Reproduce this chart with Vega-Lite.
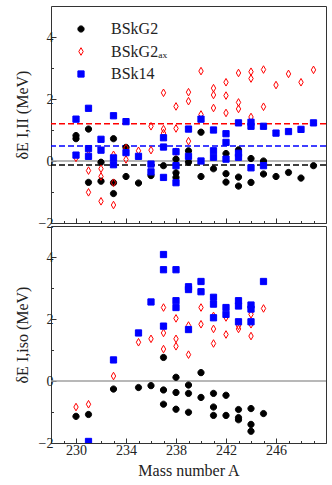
{
  "$schema": "https://vega.github.io/schema/vega-lite/v6.json",
  "padding": {"left": 13, "top": 5, "right": 7, "bottom": 5},
  "config": {
    "font": "Liberation Serif",
    "view": {"stroke": "#333", "strokeWidth": 1},
    "axis": {
      "grid": false, "domain": false, "tickColor": "#333", "tickWidth": 1,
      "labelFont": "Liberation Serif", "labelFontSize": 14, "labelColor": "#222", "labelPadding": 3,
      "titleFont": "Liberation Serif", "titleFontSize": 16, "titleFontWeight": "normal", "titleColor": "#222"
    },
    "legend": {"symbolSize": 64},
    "concat": {"spacing": 3}
  },
  "datasets": {
    "top": [
      {"A":230,"dE":0.82,"model":"BSkG2"},{"A":230,"dE":0.72,"model":"BSkG2"},
      {"A":231,"dE":1.03,"model":"BSkG2"},{"A":231,"dE":-0.69,"model":"BSkG2"},
      {"A":232,"dE":-0.04,"model":"BSkG2"},{"A":232,"dE":-0.65,"model":"BSkG2"},
      {"A":233,"dE":0.72,"model":"BSkG2"},{"A":233,"dE":-0.7,"model":"BSkG2"},{"A":233,"dE":-1.05,"model":"BSkG2"},
      {"A":234,"dE":0.44,"model":"BSkG2"},{"A":234,"dE":-0.5,"model":"BSkG2"},
      {"A":235,"dE":-0.71,"model":"BSkG2"},
      {"A":236,"dE":-0.47,"model":"BSkG2"},
      {"A":237,"dE":-0.15,"model":"BSkG2"},
      {"A":238,"dE":0.06,"model":"BSkG2"},{"A":238,"dE":-0.38,"model":"BSkG2"},{"A":238,"dE":-0.53,"model":"BSkG2"},
      {"A":239,"dE":0.33,"model":"BSkG2"},{"A":239,"dE":-0.04,"model":"BSkG2"},
      {"A":240,"dE":0.93,"model":"BSkG2"},{"A":240,"dE":-0.5,"model":"BSkG2"},
      {"A":241,"dE":-0.25,"model":"BSkG2"},
      {"A":242,"dE":0.24,"model":"BSkG2"},{"A":242,"dE":-0.41,"model":"BSkG2"},{"A":242,"dE":-0.68,"model":"BSkG2"},
      {"A":243,"dE":0.36,"model":"BSkG2"},{"A":243,"dE":-0.52,"model":"BSkG2"},{"A":243,"dE":-0.81,"model":"BSkG2"},
      {"A":244,"dE":0.08,"model":"BSkG2"},{"A":244,"dE":-0.69,"model":"BSkG2"},
      {"A":245,"dE":0.0,"model":"BSkG2"},{"A":245,"dE":-0.42,"model":"BSkG2"},
      {"A":246,"dE":-0.5,"model":"BSkG2"},
      {"A":247,"dE":-0.37,"model":"BSkG2"},
      {"A":248,"dE":-0.55,"model":"BSkG2"},
      {"A":249,"dE":-0.15,"model":"BSkG2"},

      {"A":230,"dE":0.1,"model":"BSkG2ₐₓ"},
      {"A":231,"dE":0.35,"model":"BSkG2ₐₓ"},{"A":231,"dE":-0.31,"model":"BSkG2ₐₓ"},{"A":231,"dE":-1.01,"model":"BSkG2ₐₓ"},
      {"A":232,"dE":-0.25,"model":"BSkG2ₐₓ"},{"A":232,"dE":-0.5,"model":"BSkG2ₐₓ"},{"A":232,"dE":-1.3,"model":"BSkG2ₐₓ"},
      {"A":233,"dE":0.2,"model":"BSkG2ₐₓ"},{"A":233,"dE":-0.7,"model":"BSkG2ₐₓ"},{"A":233,"dE":-1.42,"model":"BSkG2ₐₓ"},
      {"A":234,"dE":0.42,"model":"BSkG2ₐₓ"},{"A":234,"dE":0.05,"model":"BSkG2ₐₓ"},
      {"A":235,"dE":0.33,"model":"BSkG2ₐₓ"},
      {"A":236,"dE":1.12,"model":"BSkG2ₐₓ"},{"A":236,"dE":0.35,"model":"BSkG2ₐₓ"},
      {"A":237,"dE":2.2,"model":"BSkG2ₐₓ"},{"A":237,"dE":1.03,"model":"BSkG2ₐₓ"},{"A":237,"dE":0.9,"model":"BSkG2ₐₓ"},
      {"A":238,"dE":1.76,"model":"BSkG2ₐₓ"},{"A":238,"dE":1.05,"model":"BSkG2ₐₓ"},{"A":238,"dE":0.3,"model":"BSkG2ₐₓ"},
      {"A":239,"dE":2.22,"model":"BSkG2ₐₓ"},{"A":239,"dE":1.93,"model":"BSkG2ₐₓ"},{"A":239,"dE":0.64,"model":"BSkG2ₐₓ"},
      {"A":240,"dE":2.9,"model":"BSkG2ₐₓ"},{"A":240,"dE":1.5,"model":"BSkG2ₐₓ"},
      {"A":241,"dE":2.35,"model":"BSkG2ₐₓ"},{"A":241,"dE":2.13,"model":"BSkG2ₐₓ"},{"A":241,"dE":1.71,"model":"BSkG2ₐₓ"},
      {"A":242,"dE":2.54,"model":"BSkG2ₐₓ"},{"A":242,"dE":2.11,"model":"BSkG2ₐₓ"},{"A":242,"dE":1.55,"model":"BSkG2ₐₓ"},
      {"A":243,"dE":2.84,"model":"BSkG2ₐₓ"},{"A":243,"dE":1.89,"model":"BSkG2ₐₓ"},{"A":243,"dE":1.68,"model":"BSkG2ₐₓ"},
      {"A":244,"dE":2.88,"model":"BSkG2ₐₓ"},{"A":244,"dE":2.66,"model":"BSkG2ₐₓ"},{"A":244,"dE":1.42,"model":"BSkG2ₐₓ"},
      {"A":245,"dE":2.95,"model":"BSkG2ₐₓ"},{"A":245,"dE":1.75,"model":"BSkG2ₐₓ"},
      {"A":246,"dE":2.45,"model":"BSkG2ₐₓ"},
      {"A":247,"dE":2.81,"model":"BSkG2ₐₓ"},
      {"A":248,"dE":2.54,"model":"BSkG2ₐₓ"},
      {"A":249,"dE":2.94,"model":"BSkG2ₐₓ"},

      {"A":230,"dE":1.35,"model":"BSk14"},{"A":230,"dE":0.19,"model":"BSk14"},
      {"A":231,"dE":1.7,"model":"BSk14"},{"A":231,"dE":0.4,"model":"BSk14"},{"A":231,"dE":0.15,"model":"BSk14"},
      {"A":232,"dE":0.7,"model":"BSk14"},{"A":232,"dE":0.35,"model":"BSk14"},
      {"A":233,"dE":1.46,"model":"BSk14"},{"A":233,"dE":0.1,"model":"BSk14"},{"A":233,"dE":-0.12,"model":"BSk14"},
      {"A":234,"dE":1.27,"model":"BSk14"},{"A":234,"dE":0.27,"model":"BSk14"},
      {"A":235,"dE":0.15,"model":"BSk14"},
      {"A":236,"dE":-0.1,"model":"BSk14"},{"A":236,"dE":-0.35,"model":"BSk14"},
      {"A":237,"dE":0.75,"model":"BSk14"},{"A":237,"dE":0.45,"model":"BSk14"},{"A":237,"dE":-0.53,"model":"BSk14"},
      {"A":238,"dE":0.3,"model":"BSk14"},{"A":238,"dE":-0.15,"model":"BSk14"},{"A":238,"dE":-0.7,"model":"BSk14"},
      {"A":239,"dE":1.03,"model":"BSk14"},{"A":239,"dE":0.15,"model":"BSk14"},
      {"A":240,"dE":1.35,"model":"BSk14"},{"A":240,"dE":0.0,"model":"BSk14"},
      {"A":241,"dE":1.0,"model":"BSk14"},{"A":241,"dE":0.33,"model":"BSk14"},{"A":241,"dE":0.12,"model":"BSk14"},
      {"A":242,"dE":0.88,"model":"BSk14"},{"A":242,"dE":0.6,"model":"BSk14"},{"A":242,"dE":0.06,"model":"BSk14"},
      {"A":243,"dE":1.23,"model":"BSk14"},{"A":243,"dE":0.25,"model":"BSk14"},{"A":243,"dE":0.12,"model":"BSk14"},
      {"A":244,"dE":1.25,"model":"BSk14"},{"A":244,"dE":1.12,"model":"BSk14"},{"A":244,"dE":-0.22,"model":"BSk14"},
      {"A":245,"dE":1.12,"model":"BSk14"},{"A":245,"dE":-0.15,"model":"BSk14"},
      {"A":246,"dE":0.9,"model":"BSk14"},
      {"A":247,"dE":0.95,"model":"BSk14"},
      {"A":248,"dE":1.02,"model":"BSk14"},
      {"A":249,"dE":1.23,"model":"BSk14"}
    ],
    "bot": [
      {"A":230,"dE":-1.14,"model":"BSkG2"},
      {"A":231,"dE":-1.08,"model":"BSkG2"},
      {"A":233,"dE":-0.26,"model":"BSkG2"},
      {"A":235,"dE":-0.21,"model":"BSkG2"},
      {"A":236,"dE":-0.15,"model":"BSkG2"},
      {"A":237,"dE":0.76,"model":"BSkG2"},{"A":237,"dE":-0.29,"model":"BSkG2"},{"A":237,"dE":-0.75,"model":"BSkG2"},
      {"A":238,"dE":0.12,"model":"BSkG2"},{"A":238,"dE":-0.37,"model":"BSkG2"},{"A":238,"dE":-0.91,"model":"BSkG2"},
      {"A":239,"dE":-0.13,"model":"BSkG2"},{"A":239,"dE":-0.4,"model":"BSkG2"},{"A":239,"dE":-1.01,"model":"BSkG2"},
      {"A":240,"dE":0.27,"model":"BSkG2"},{"A":240,"dE":-0.53,"model":"BSkG2"},
      {"A":241,"dE":-0.4,"model":"BSkG2"},{"A":241,"dE":-0.84,"model":"BSkG2"},{"A":241,"dE":-1.11,"model":"BSkG2"},
      {"A":242,"dE":-0.46,"model":"BSkG2"},{"A":242,"dE":-1.11,"model":"BSkG2"},
      {"A":243,"dE":-0.92,"model":"BSkG2"},{"A":243,"dE":-1.18,"model":"BSkG2"},{"A":243,"dE":-1.25,"model":"BSkG2"},
      {"A":244,"dE":-0.89,"model":"BSkG2"},{"A":244,"dE":-1.4,"model":"BSkG2"},{"A":244,"dE":-1.62,"model":"BSkG2"},
      {"A":245,"dE":-1.05,"model":"BSkG2"},

      {"A":230,"dE":-0.84,"model":"BSkG2ₐₓ"},
      {"A":231,"dE":-0.75,"model":"BSkG2ₐₓ"},
      {"A":233,"dE":0.16,"model":"BSkG2ₐₓ"},
      {"A":235,"dE":1.25,"model":"BSkG2ₐₓ"},
      {"A":236,"dE":1.36,"model":"BSkG2ₐₓ"},
      {"A":237,"dE":2.37,"model":"BSkG2ₐₓ"},{"A":237,"dE":1.55,"model":"BSkG2ₐₓ"},{"A":237,"dE":1.03,"model":"BSkG2ₐₓ"},
      {"A":238,"dE":2.02,"model":"BSkG2ₐₓ"},{"A":238,"dE":1.36,"model":"BSkG2ₐₓ"},{"A":238,"dE":1.12,"model":"BSkG2ₐₓ"},
      {"A":239,"dE":1.79,"model":"BSkG2ₐₓ"},{"A":239,"dE":0.85,"model":"BSkG2ₐₓ"},
      {"A":240,"dE":2.37,"model":"BSkG2ₐₓ"},{"A":240,"dE":1.83,"model":"BSkG2ₐₓ"},
      {"A":241,"dE":2.1,"model":"BSkG2ₐₓ"},{"A":241,"dE":1.68,"model":"BSkG2ₐₓ"},{"A":241,"dE":1.21,"model":"BSkG2ₐₓ"},
      {"A":242,"dE":2.05,"model":"BSkG2ₐₓ"},{"A":242,"dE":1.5,"model":"BSkG2ₐₓ"},
      {"A":243,"dE":1.78,"model":"BSkG2ₐₓ"},{"A":243,"dE":1.68,"model":"BSkG2ₐₓ"},
      {"A":244,"dE":2.15,"model":"BSkG2ₐₓ"},{"A":244,"dE":1.83,"model":"BSkG2ₐₓ"},{"A":244,"dE":1.45,"model":"BSkG2ₐₓ"},
      {"A":245,"dE":2.34,"model":"BSkG2ₐₓ"},

      {"A":231,"dE":-1.95,"model":"BSk14"},
      {"A":233,"dE":0.68,"model":"BSk14"},
      {"A":235,"dE":1.55,"model":"BSk14"},
      {"A":236,"dE":2.55,"model":"BSk14"},
      {"A":237,"dE":4.08,"model":"BSk14"},{"A":237,"dE":3.59,"model":"BSk14"},{"A":237,"dE":1.77,"model":"BSk14"},
      {"A":238,"dE":3.59,"model":"BSk14"},{"A":238,"dE":2.59,"model":"BSk14"},{"A":238,"dE":2.37,"model":"BSk14"},
      {"A":239,"dE":3.04,"model":"BSk14"},{"A":239,"dE":2.95,"model":"BSk14"},{"A":239,"dE":1.66,"model":"BSk14"},
      {"A":240,"dE":3.21,"model":"BSk14"},{"A":240,"dE":2.88,"model":"BSk14"},
      {"A":241,"dE":2.7,"model":"BSk14"},{"A":241,"dE":2.48,"model":"BSk14"},{"A":241,"dE":2.04,"model":"BSk14"},
      {"A":242,"dE":2.37,"model":"BSk14"},{"A":242,"dE":2.15,"model":"BSk14"},
      {"A":243,"dE":2.59,"model":"BSk14"},{"A":243,"dE":2.42,"model":"BSk14"},{"A":243,"dE":1.91,"model":"BSk14"},
      {"A":244,"dE":2.45,"model":"BSk14"},{"A":244,"dE":2.32,"model":"BSk14"},{"A":244,"dE":1.91,"model":"BSk14"},
      {"A":245,"dE":3.21,"model":"BSk14"}
    ],
    "topLines": [
      {"dE":0,"kind":"zero"},
      {"dE":1.2,"kind":"BSkG2ax mean"},
      {"dE":0.48,"kind":"BSk14 mean"},
      {"dE":-0.13,"kind":"BSkG2 mean"}
    ],
    "botLines": [
      {"dE":0,"kind":"zero"}
    ]
  },
  "resolve": {"legend": {"fill": "independent", "stroke": "independent", "shape": "independent"}},
  "bounds": "flush",
  "vconcat": [
    {
      "width": 275, "height": 217,
      "layer": [
        {
          "data": {"name": "topLines"},
          "mark": {"type": "rule", "strokeWidth": 1.5},
          "encoding": {
            "y": {"field": "dE", "type": "quantitative", "scale": {"domain": [-2, 5], "nice": false},
              "axis": {"values": [-2, -1, 0, 1, 2, 3, 4], "title": "δE I,II (MeV)", "titlePadding": 8,
                "labelExpr": "datum.value % 2 === 0 ? datum.label : ''",
                "tickSize": {"condition": {"test": "datum.value % 2 === 0", "value": -5}, "value": -2.5}}},
            "color": {"field": "kind", "type": "nominal", "legend": null,
              "scale": {"domain": ["zero", "BSkG2 mean", "BSkG2ax mean", "BSk14 mean"], "range": ["#a0a0a0", "black", "red", "blue"]}},
            "strokeDash": {"field": "kind", "type": "nominal", "legend": null,
              "scale": {"domain": ["zero", "BSkG2 mean", "BSkG2ax mean", "BSk14 mean"], "range": [[1, 0], [6, 3], [6, 3], [6, 3]]}}
          }
        },
        {
          "data": {"name": "top"},
          "mark": {"type": "point", "strokeWidth": 1, "opacity": 1, "clip": true, "size": 64},
          "encoding": {
            "x": {"field": "A", "type": "quantitative",
              "scale": {"domain": [228, 250], "nice": false, "zero": false},
              "axis": {"values": [228,229,230,231,232,233,234,235,236,237,238,239,240,241,242,243,244,245,246,247,248,249,250],
                "labels": false, "title": null,
                "tickSize": {"condition": {"test": "datum.value % 4 === 2", "value": -5}, "value": -2.5}}},
            "y": {"field": "dE", "type": "quantitative",
              "scale": {"domain": [-2, 5], "nice": false},
              "axis": {"values": [-2, -1, 0, 1, 2, 3, 4], "title": "δE I,II (MeV)", "titlePadding": 8,
                "labelExpr": "datum.value % 2 === 0 ? datum.label : ''",
                "tickSize": {"condition": {"test": "datum.value % 2 === 0", "value": -5}, "value": -2.5}}},
            "shape": {"field": "model", "type": "nominal",
              "scale": {"domain": ["BSkG2", "BSkG2ₐₓ", "BSk14"], "range": ["M-0.78,0A0.78,0.78,0,1,1,0.78,0A0.78,0.78,0,1,1,-0.78,0Z", "M-0.55,0L0,-0.95L0.55,0L0,0.95Z", "M-0.78,-0.78L0.78,-0.78L0.78,0.78L-0.78,0.78Z"]},
              "legend": {"orient": "none", "legendX": 22, "legendY": 15, "title": null, "padding": 0,
                "labelFontSize": 16, "labelFont": "Liberation Serif", "labelColor": "#222", "rowPadding": 6.5, "labelOffset": 22, "symbolStrokeWidth": 1, "symbolSize": 64}},
            "fill": {"field": "model", "type": "nominal",
              "scale": {"domain": ["BSkG2", "BSkG2ₐₓ", "BSk14"], "range": ["black", "transparent", "blue"]},
              "legend": {"orient": "none", "legendX": 22, "legendY": 15, "title": null, "padding": 0,
                "labelFontSize": 16, "labelFont": "Liberation Serif", "labelColor": "#222", "rowPadding": 6.5, "labelOffset": 22, "symbolStrokeWidth": 1, "symbolSize": 64}},
            "stroke": {"field": "model", "type": "nominal",
              "scale": {"domain": ["BSkG2", "BSkG2ₐₓ", "BSk14"], "range": ["black", "red", "blue"]},
              "legend": {"orient": "none", "legendX": 22, "legendY": 15, "title": null, "padding": 0,
                "labelFontSize": 16, "labelFont": "Liberation Serif", "labelColor": "#222", "rowPadding": 6.5, "labelOffset": 22, "symbolStrokeWidth": 1, "symbolSize": 64}}
          }
        }
      ]
    },
    {
      "width": 275, "height": 217,
      "layer": [
        {
          "data": {"name": "botLines"},
          "mark": {"type": "rule", "strokeWidth": 1.5},
          "encoding": {
            "y": {"field": "dE", "type": "quantitative", "scale": {"domain": [-2, 5], "nice": false},
              "axis": {"values": [-2, -1, 0, 1, 2, 3, 4], "title": "δE I,iso (MeV)", "titlePadding": 8,
                "labelExpr": "datum.value % 2 === 0 ? datum.label : ''",
                "tickSize": {"condition": {"test": "datum.value % 2 === 0", "value": -5}, "value": -2.5}}},
            "color": {"field": "kind", "type": "nominal", "legend": null,
              "scale": {"domain": ["zero", "BSkG2 mean", "BSkG2ax mean", "BSk14 mean"], "range": ["#a0a0a0", "black", "red", "blue"]}}
          }
        },
        {
          "data": {"name": "bot"},
          "mark": {"type": "point", "strokeWidth": 1, "opacity": 1, "clip": true, "size": 64},
          "encoding": {
            "x": {"field": "A", "type": "quantitative",
              "scale": {"domain": [228, 250], "nice": false, "zero": false},
              "axis": {"values": [228,229,230,231,232,233,234,235,236,237,238,239,240,241,242,243,244,245,246,247,248,249,250],
                "title": "Mass number A", "titlePadding": 5, "labelPadding": 5,
                "labelExpr": "datum.value % 4 === 2 && datum.value < 248 ? datum.label : ''",
                "tickSize": {"condition": {"test": "datum.value % 4 === 2", "value": -5}, "value": -2.5}}},
            "y": {"field": "dE", "type": "quantitative",
              "scale": {"domain": [-2, 5], "nice": false},
              "axis": {"values": [-2, -1, 0, 1, 2, 3, 4], "title": "δE I,iso (MeV)", "titlePadding": 8,
                "labelExpr": "datum.value % 2 === 0 ? datum.label : ''",
                "tickSize": {"condition": {"test": "datum.value % 2 === 0", "value": -5}, "value": -2.5}}},
            "shape": {"field": "model", "type": "nominal",
              "scale": {"domain": ["BSkG2", "BSkG2ₐₓ", "BSk14"], "range": ["M-0.78,0A0.78,0.78,0,1,1,0.78,0A0.78,0.78,0,1,1,-0.78,0Z", "M-0.55,0L0,-0.95L0.55,0L0,0.95Z", "M-0.78,-0.78L0.78,-0.78L0.78,0.78L-0.78,0.78Z"]}, "legend": null},
            "fill": {"field": "model", "type": "nominal",
              "scale": {"domain": ["BSkG2", "BSkG2ₐₓ", "BSk14"], "range": ["black", "transparent", "blue"]}, "legend": null},
            "stroke": {"field": "model", "type": "nominal",
              "scale": {"domain": ["BSkG2", "BSkG2ₐₓ", "BSk14"], "range": ["black", "red", "blue"]}, "legend": null}
          }
        }
      ]
    }
  ]
}
